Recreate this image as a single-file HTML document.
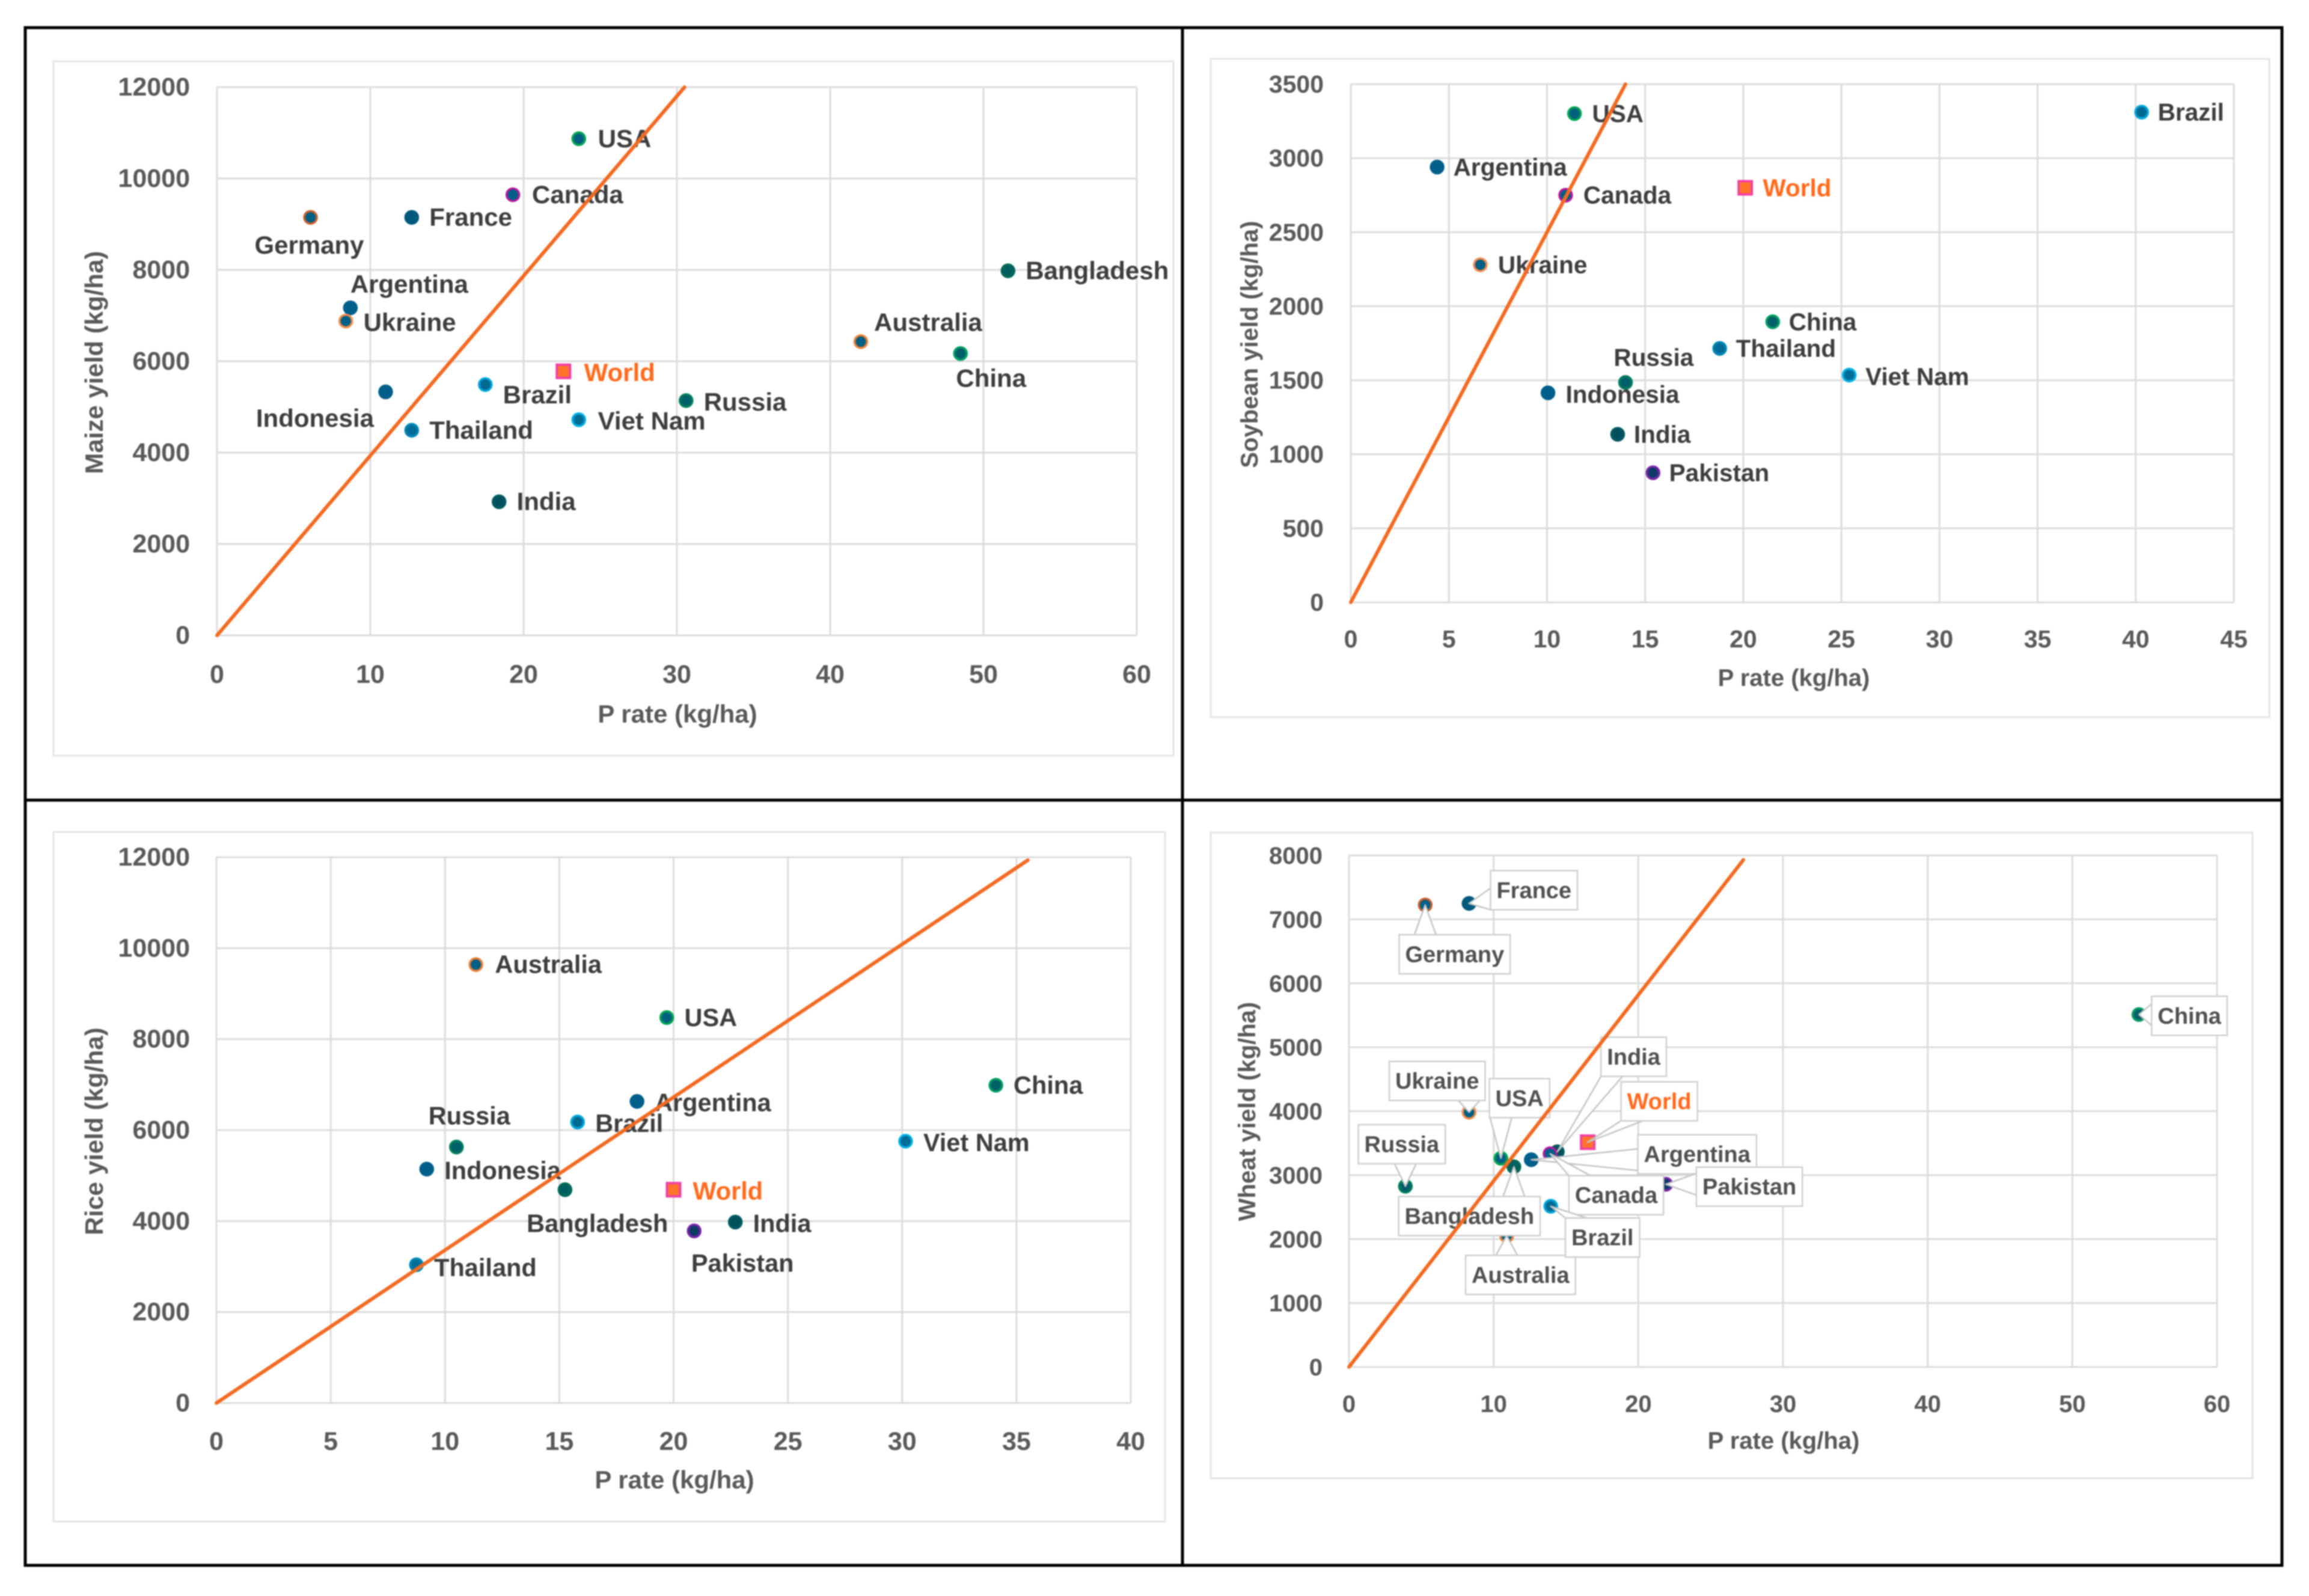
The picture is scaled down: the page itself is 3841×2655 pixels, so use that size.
<!DOCTYPE html>
<html lang="en">
<head>
<meta charset="utf-8">
<title>Crop yield vs P rate</title>
<style>
html,body{margin:0;padding:0;background:#fff;width:3841px;height:2655px;overflow:hidden}
svg{display:block;font-family:"Liberation Sans",sans-serif;font-weight:700;filter:blur(1.1px)}
</style>
</head>
<body>
<svg id="figure" xmlns="http://www.w3.org/2000/svg" width="3841" height="2655" viewBox="0 0 3841 2655">
  <rect x="0" y="0" width="3841" height="2655" fill="#ffffff"/>
</svg>
<script>
/* ---------- Maize ---------- */
const maizeCountries = ["USA","Canada","France","Germany","Argentina","Ukraine","Bangladesh","Australia","China","Indonesia","Brazil","Russia","Thailand","Viet Nam","India","World"];
const maizeRates  = [23.6,19.3,12.7,6.1,8.7,8.4,51.6,42,48.5,11,17.5,30.6,12.7,23.6,18.4,22.6];
const maizeYields = [10871,9645,9150,9150,7170,6880,7980,6430,6170,5330,5490,5140,4490,4720,2925,5780];
const maizeXTicks = [0,10,20,30,40,50,60];
const maizeYTicks = [0,2000,4000,6000,8000,10000,12000];
const maizeTrendX = [0,30.5];
const maizeTrendY = [0,12000];

/* ---------- Soybean ---------- */
const soyCountries = ["Brazil","USA","Argentina","Canada","Ukraine","China","Thailand","Russia","Viet Nam","Indonesia","India","Pakistan","World"];
const soyRates  = [40.3,11.4,4.4,10.95,6.6,21.5,18.8,14,25.4,10.05,13.6,15.4,20.1];
const soyYields = [3311,3301,2940,2750,2280,1895,1715,1485,1535,1415,1135,875,2800];
const soyXTicks = [0,5,10,15,20,25,30,35,40,45];
const soyYTicks = [0,500,1000,1500,2000,2500,3000,3500];
const soyTrendX = [0,14];
const soyTrendY = [0,3500];

/* ---------- Rice ---------- */
const riceCountries = ["Australia","USA","China","Argentina","Brazil","Viet Nam","Russia","Indonesia","Bangladesh","India","Pakistan","Thailand","World"];
const riceRates  = [11.35,19.7,34.1,18.4,15.8,30.15,10.5,9.2,15.25,22.7,20.9,8.75,20];
const riceYields = [9639,8474,6987,6631,6178,5757,5628,5143,4690,3978,3784,3040,4690];
const riceXTicks = [0,5,10,15,20,25,30,35,40];
const riceYTicks = [0,2000,4000,6000,8000,10000,12000];
const riceTrendX = [0,35.5];
const riceTrendY = [0,11935];

/* ---------- Wheat ---------- */
const wheatCountries = ["France","Germany","China","Ukraine","Russia","USA","India","World","Argentina","Pakistan","Canada","Australia","Bangladesh","Brazil"];
const wheatRates  = [8.3,5.27,54.6,8.3,3.9,10.5,14.4,16.5,12.6,21.9,13.9,10.9,11.4,13.95];
const wheatYields = [7249,7225,5511,3984,2826,3264,3366,3515,3241,2857,3335,2051,3131,2513];
const wheatXTicks = [0,10,20,30,40,50,60];
const wheatYTicks = [0,1000,2000,3000,4000,5000,6000,7000,8000];
const wheatTrendX = [0,27.26];
const wheatTrendY = [0,7930];

/* ---------- Layout and style tables (not data) ---------- */
const K = 2.45;
const maizeLabelLayout = {"USA":[13,0],"Canada":[13,0],"France":[12,0],"Germany":[-38,19],"Argentina":[0,-16],"Ukraine":[12,1],"Bangladesh":[12,0],"Australia":[9,-13],"China":[-3,17],"World":[14,1],"Indonesia":[-88,18],"Brazil":[12,7],"Russia":[12,1],"Thailand":[12,0],"Viet Nam":[13,1],"India":[12,0]};
const soyLabelLayout = {"Brazil":[11,0],"USA":[12,0],"Argentina":[11,0],"World":[12,0],"Canada":[12,0],"Ukraine":[12,0],"China":[11,0],"Thailand":[11,0],"Russia":[-8,-17],"Viet Nam":[11,1],"Indonesia":[12,1],"India":[11,0],"Pakistan":[11,0]};
const riceLabelLayout = {"Australia":[13,0],"USA":[12,0],"China":[12,0],"Argentina":[12,1],"Brazil":[12,1],"Viet Nam":[12,1],"Russia":[-19,-21],"Indonesia":[12,1],"Bangladesh":[-26,23],"World":[13,1],"India":[12,1],"Pakistan":[-2,22],"Thailand":[12,2]};
const wheatCalloutLayout = {"France":[108,-22],"Germany":[49,82],"China":[84,2],"India":[127,-158],"World":[119,-68],"Ukraine":[-53,-52],"USA":[31,-100],"Russia":[-6,-70],"Argentina":[276,-9],"Pakistan":[139,4],"Canada":[110,69],"Bangladesh":[-74,82],"Brazil":[86,52],"Australia":[23,65]};
const markerStyles = {
  "USA":["#00607f","#00a651"],"Canada":["#005f85","#b5189f"],"France":["#005a7d","#00587a"],
  "Germany":["#005f85","#c8602c"],"Argentina":["#005f8a","#005f8a"],"Ukraine":["#005f85","#f58a4a"],
  "Bangladesh":["#00605f","#006a55"],"Australia":["#005f85","#f07f30"],"China":["#00606a","#00a060"],
  "Indonesia":["#005f8a","#005f8a"],"Brazil":["#006a92","#00a8dc"],"Russia":["#00606a","#007f5c"],
  "Thailand":["#006d98","#0089b8"],"Viet Nam":["#006d98","#00b0e6"],"India":["#00505c","#005a60"],
  "Pakistan":["#0f3a68","#7a24a8"],"World":["#ff7428","#f23fa6"]
};
const NS = "http://www.w3.org/2000/svg";
const root = document.getElementById("figure");

function slug(s){ return s.toLowerCase().replace(/[^a-z0-9]+/g,"-"); }
function make(parent, tag, props){
  const node = document.createElementNS(NS, tag);
  for (const k in props) node.setAttribute(k, props[k]);
  parent.appendChild(node);
  return node;
}
function drawLabelText(parent, txt, x, y, size, fill, anchor){
  const t = make(parent, "text", {x:x, y:y, "font-size":size, fill:fill, "text-anchor":anchor});
  t.textContent = txt;
  return t;
}
function drawMarker(parent, name, px, py){
  const st = markerStyles[name];
  if (name === "World") {
    const m = make(parent, "rect", {x:px-11, y:py-11, width:22, height:22, fill:st[0], stroke:st[1], "stroke-width":4});
    
    
    return m;
  }
  const m = make(parent, "circle", {cx:px, cy:py, r:10.5, fill:st[0], stroke:st[1], "stroke-width":3.5});
  
  
  return m;
}
function drawCallout(parent, name, px, py, layout, size){
  const g = make(parent, "g", {});
  
  
  const cx = px + layout[0], cy = py + layout[1];
  const wedge = make(g, "polygon", {fill:"#ffffff", stroke:"#c4c4c4", "stroke-width":2.5, "stroke-linejoin":"round"});
  
  
  const box = make(g, "rect", {fill:"#ffffff", stroke:"#cfcfcf", "stroke-width":2.5});
  
  
  const label = drawLabelText(g, name, cx, cy + 13, size, name === "World" ? "#ff6a1c" : "#505050", "middle");
  
  
  const w = label.getComputedTextLength() + 20, h = 65;
  const l = cx - w/2, r = cx + w/2, t = cy - h/2, b = cy + h/2;
  box.setAttribute("x", l); box.setAttribute("y", t);
  box.setAttribute("width", w); box.setAttribute("height", h);
  const hw = 18;
  const clamp = (v, a, z) => Math.max(a, Math.min(z, v));
  let pts;
  if (py > b || py < t) {
    const e = py > b ? b : t, c = clamp(px, l + hw, r - hw);
    pts = [[c - hw, e], [px, py], [c + hw, e]];
  } else {
    const e = px < l ? l : r, c = clamp(py, t + hw, b - hw);
    pts = [[e, c - hw], [px, py], [e, c + hw]];
  }
  wedge.setAttribute("points", pts.map(p => p.join(",")).join(" "));
}
function drawChart(cfg){
  const g = make(root, "g", {});
  
  

  const panel = make(g, "rect", {x:cfg.panel[0], y:cfg.panel[1], width:cfg.panel[2]-cfg.panel[0], height:cfg.panel[3]-cfg.panel[1], fill:"#ffffff", stroke:"#e4e4e4", "stroke-width":3});
  
  

  const L = cfg.plot[0], T = cfg.plot[1], R = cfg.plot[2], B = cfg.plot[3];
  const xMax = cfg.xTicks[cfg.xTicks.length-1], yMax = cfg.yTicks[cfg.yTicks.length-1];
  const sx = v => L + (v / xMax) * (R - L);
  const sy = v => B - (v / yMax) * (B - T);

  const gridG = make(g, "g", {stroke:"#dcdcdc", "stroke-width":3});
  
  
  cfg.xTicks.forEach(v => {
    const ln = make(gridG, "line", {x1:sx(v), x2:sx(v), y1:T, y2:B});
    
    
    const t = drawLabelText(g, String(v), sx(v), cfg.xTickY + 14, cfg.tickSize, "#595959", "middle");
    
    
  });
  cfg.yTicks.forEach(v => {
    const ln = make(gridG, "line", {x1:L, x2:R, y1:sy(v), y2:sy(v)});
    
    
    const t = drawLabelText(g, String(v), cfg.yTickX, sy(v) + 14, cfg.tickSize, "#595959", "end");
    
    
  });

  const xt = drawLabelText(g, "P rate (kg/ha)", cfg.xTitle[0], cfg.xTitle[1] + 14, cfg.titleSize, "#595959", "middle");
  
  
  const yt = drawLabelText(g, cfg.yLabel, 0, 0, cfg.titleSize, "#595959", "middle");
  yt.setAttribute("transform", "translate(" + (cfg.yTitle[0] + 14) + "," + cfg.yTitle[1] + ") rotate(-90)");
  
  

  const marks = make(g, "g", {});
  
  
  cfg.names.forEach((name, i) => drawMarker(marks, name, sx(cfg.xs[i]), sy(cfg.ys[i])));

  const labels = make(g, "g", {});
  
  
  cfg.names.forEach((name, i) => {
    const px = sx(cfg.xs[i]), py = sy(cfg.ys[i]);
    if (cfg.callouts) {
      drawCallout(labels, name, px, py, cfg.callouts[name], 38);
    } else {
      const o = cfg.labels[name];
      const t = drawLabelText(labels, name, px + o[0]*K, py + o[1]*K + 14, cfg.labelSize, name === "World" ? "#ff6a1c" : "#3d3d3d", "start");
      
      
    }
  });

  const trend = make(g, "line", {x1:sx(cfg.trendX[0]), y1:sy(cfg.trendY[0]), x2:sx(cfg.trendX[1]), y2:sy(cfg.trendY[1]), stroke:"#f26a21", "stroke-width":6, "stroke-linecap":"round"});
  
  
}

drawChart({id:"maize", panel:[89,102,1952,1257], plot:[361,145,1891,1057], xTicks:maizeXTicks, yTicks:maizeYTicks, names:maizeCountries, xs:maizeRates, ys:maizeYields, trendX:maizeTrendX, trendY:maizeTrendY, labels:maizeLabelLayout, yLabel:"Maize yield (kg/ha)", xTitle:[1127,1188], yTitle:[157,603], xTickY:1122, yTickX:316, tickSize:43, titleSize:42, labelSize:42});
drawChart({id:"soybean", panel:[2014,98,3775,1193], plot:[2247,140,3716,1002], xTicks:soyXTicks, yTicks:soyYTicks, names:soyCountries, xs:soyRates, ys:soyYields, trendX:soyTrendX, trendY:soyTrendY, labels:soyLabelLayout, yLabel:"Soybean yield (kg/ha)", xTitle:[2984,1127], yTitle:[2078,573], xTickY:1063, yTickX:2202, tickSize:41, titleSize:40, labelSize:40.5});
drawChart({id:"rice", panel:[89,1384,1938,2531], plot:[360,1426,1881,2334], xTicks:riceXTicks, yTicks:riceYTicks, names:riceCountries, xs:riceRates, ys:riceYields, trendX:riceTrendX, trendY:riceTrendY, labels:riceLabelLayout, yLabel:"Rice yield (kg/ha)", xTitle:[1122,2462], yTitle:[157,1882], xTickY:2398, yTickX:316, tickSize:43, titleSize:42, labelSize:41.5});
drawChart({id:"wheat", panel:[2014,1385,3747,2459], plot:[2244,1423,3688,2274], xTicks:wheatXTicks, yTicks:wheatYTicks, names:wheatCountries, xs:wheatRates, ys:wheatYields, trendX:wheatTrendX, trendY:wheatTrendY, callouts:wheatCalloutLayout, yLabel:"Wheat yield (kg/ha)", xTitle:[2967,2396], yTitle:[2074,1849], xTickY:2335, yTickX:2200, tickSize:40, titleSize:40, labelSize:38});

const frame = make(root, "g", {stroke:"#000000", "stroke-width":5, fill:"none"});


const frameOuter = make(frame, "rect", {x:42, y:46, width:3754, height:2558});


const frameV = make(frame, "line", {x1:1967, x2:1967, y1:46, y2:2604});


const frameH = make(frame, "line", {x1:42, x2:3796, y1:1331, y2:1331});


</script>
</body>
</html>
